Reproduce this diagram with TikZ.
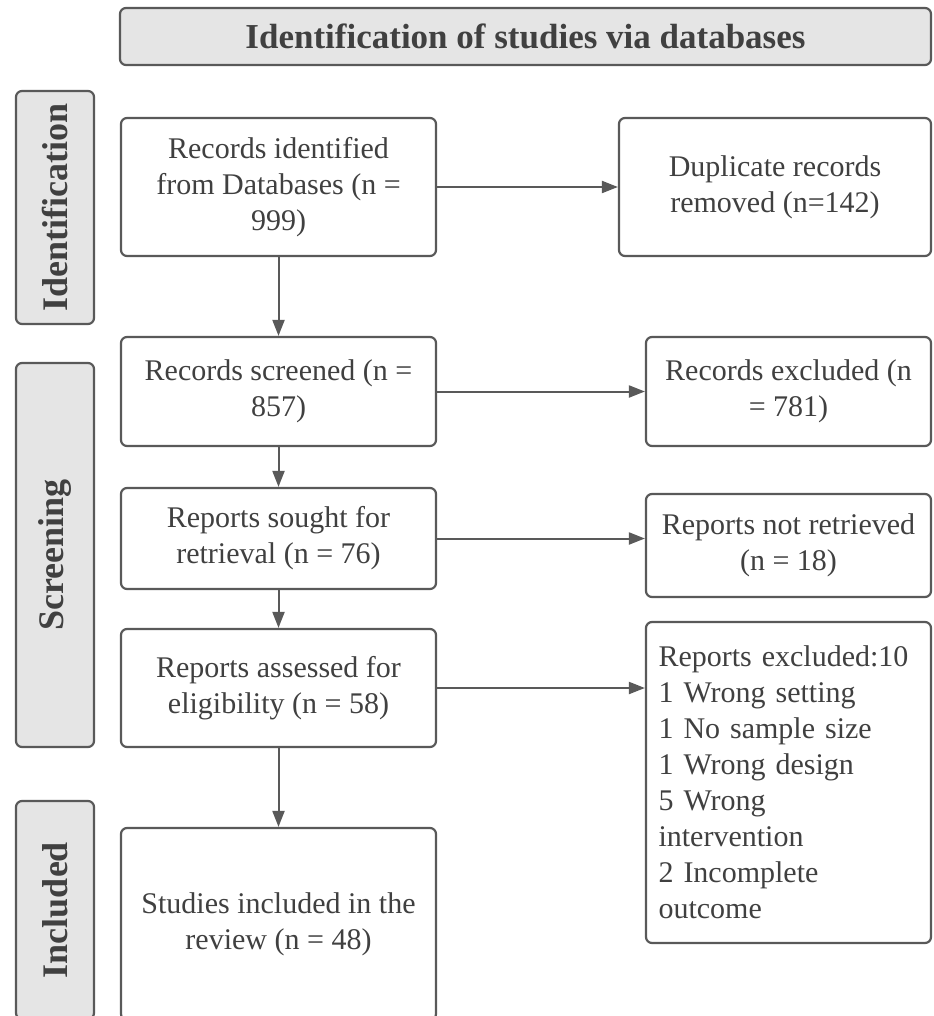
\documentclass[tikz,border=0pt]{standalone}
\usepackage{fontspec}
\setmainfont{Liberation Serif}
\usetikzlibrary{arrows.meta, positioning}

\begin{document}
\begin{tikzpicture}[
        x=0.5pt, y=-0.5pt,
        font=\fontsize{15}{18}\selectfont,
        every node/.style = {align=center, text=black!75},
        box/.style = {rectangle, rounded corners=3pt, draw=black!65,
                      line width=1.1pt, fill=white, inner sep=3pt},
        head/.style = {box, fill=black!10,
                       font=\bfseries\fontsize{17.5}{21}\selectfont},
        phase/.style = {box, fill=black!10, minimum width=39pt,
                        font=\bfseries\fontsize{18}{22}\selectfont},
        arrow/.style = {-{Triangle[length=8pt, width=6pt]}, line width=1pt,
                        draw=black!65}
    ]
    \useasboundingbox (0,0) rectangle (933,1016);

    % --- Title bar ---
    \node[head, minimum width=405.5pt, minimum height=28.5pt] (title) at (525.5,36.5)
        {Identification of studies via databases};

    % --- Phase labels (left column) ---
    \node[phase, minimum height=116.5pt] (pident) at (55,207.5) {\rotatebox{90}{Identification}};
    \node[phase, minimum height=192pt]   (pscreen) at (55,555)  {\rotatebox{90}{Screening}};
    \node[phase, minimum height=109pt]   (pinc)   at (55,910)   {\rotatebox{90}{Included}};

    % --- Main flow (centre column) ---
    \node[box, minimum width=157.5pt, minimum height=69pt]   (ident)  at (278.5,187)
        {Records identified\\from Databases (n =\\999)};
    \node[box, minimum width=157.5pt, minimum height=54.5pt] (screen) at (278.5,391.5)
        {Records screened (n =\\857)};
    \node[box, minimum width=157.5pt, minimum height=50.5pt] (sought) at (278.5,538.5)
        {Reports sought for\\retrieval (n = 76)};
    \node[box, minimum width=157.5pt, minimum height=59pt]   (elig)   at (278.5,688)
        {Reports assessed for\\eligibility (n = 58)};
    \node[box, minimum width=157.5pt, minimum height=96pt]   (incl)   at (278.5,924)
        {Studies included in the\\review (n = 48)};

    % --- Removed / excluded (right column) ---
    \node[box, minimum width=156pt, minimum height=69pt]     (dup)    at (775,187)
        {Duplicate records\\removed (n=142)};
    \node[box, minimum width=142.5pt, minimum height=54.5pt] (excl)   at (788.5,391.5)
        {Records excluded (n\\= 781)};
    \node[box, minimum width=142.5pt, minimum height=51.5pt] (notret) at (788.5,545.5)
        {Reports not retrieved\\(n = 18)};
    \node[box, minimum width=142.5pt, minimum height=160.5pt,
          align=left, text width=130pt]                      (rexcl)  at (788.5,782.5)
        {Reports excluded:10\\1 Wrong setting\\1 No sample size\\1 Wrong design\\5 Wrong\\intervention\\2 Incomplete\\outcome};

    % --- Arrows ---
    \draw[arrow] (ident)  -- (screen);
    \draw[arrow] (screen) -- (sought);
    \draw[arrow] (sought) -- (elig);
    \draw[arrow] (elig)   -- (incl);
    \draw[arrow] (ident)  -- (dup);
    \draw[arrow] (screen) -- (excl);
    \draw[arrow] (sought.east) -- (sought.east -| notret.west);
    \draw[arrow] (elig.east)   -- (elig.east -| rexcl.west);

\end{tikzpicture}
\end{document}
